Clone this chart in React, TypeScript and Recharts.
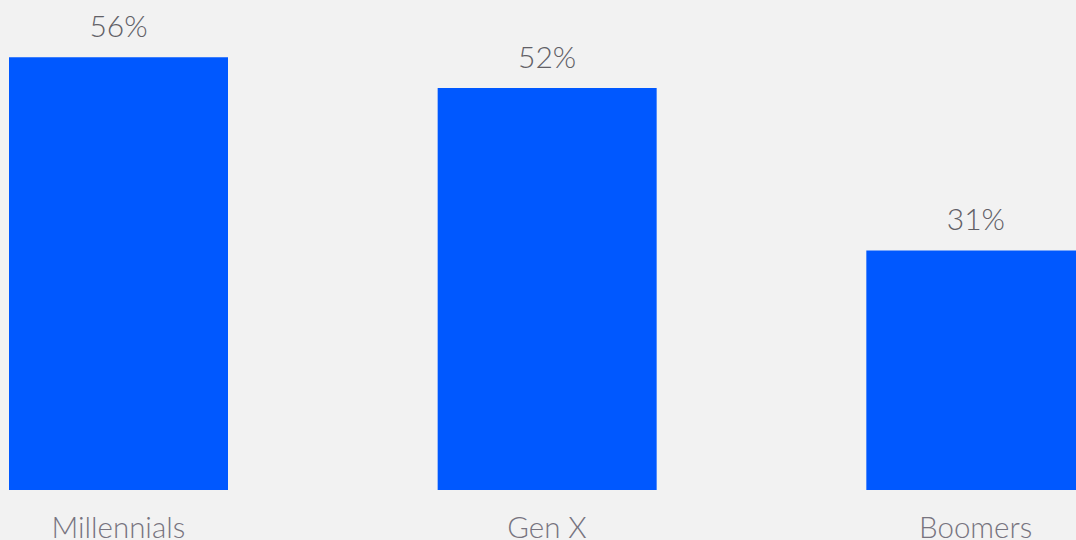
import { BarChart, Bar, XAxis, YAxis, LabelList } from 'recharts'

const generations = ['Millennials', 'Gen X', 'Boomers']
const shares = [56, 52, 31]

const chartData = generations.map((name, i) => ({ name, share: shares[i] }))

const CategoryTick = (props: any) => {
  const { x, payload } = props
  return (
    <text x={x} y={538} textAnchor="middle" fill="#77747f" fontSize={29.5} fontWeight={300} fontFamily="Lato, sans-serif">
      {payload.value}
    </text>
  )
}

export default function App() {
  return (
    <div style={{ position: 'absolute', top: 0, left: 0, width: 1076, height: 540, overflow: 'hidden', background: '#f2f2f2' }}>
      <div style={{ position: 'absolute', top: 0, left: -96 }}>
        <BarChart width={1286} height={540} data={chartData} margin={{ top: 0, right: 0, bottom: 0, left: 0 }}>
          <XAxis dataKey="name" axisLine={false} tickLine={false} height={50} tick={<CategoryTick />} interval={0} />
          <YAxis hide domain={[0, 63.4]} />
          <Bar dataKey="share" fill="#0058ff" barSize={219} isAnimationActive={false}>
            <LabelList
              dataKey="share"
              position="top"
              offset={20}
              formatter={(v: any) => `${v}%`}
              fill="#616066"
              fontSize={30}
              fontWeight={300}
              fontFamily="Lato, sans-serif"
            />
          </Bar>
        </BarChart>
      </div>
    </div>
  )
}
